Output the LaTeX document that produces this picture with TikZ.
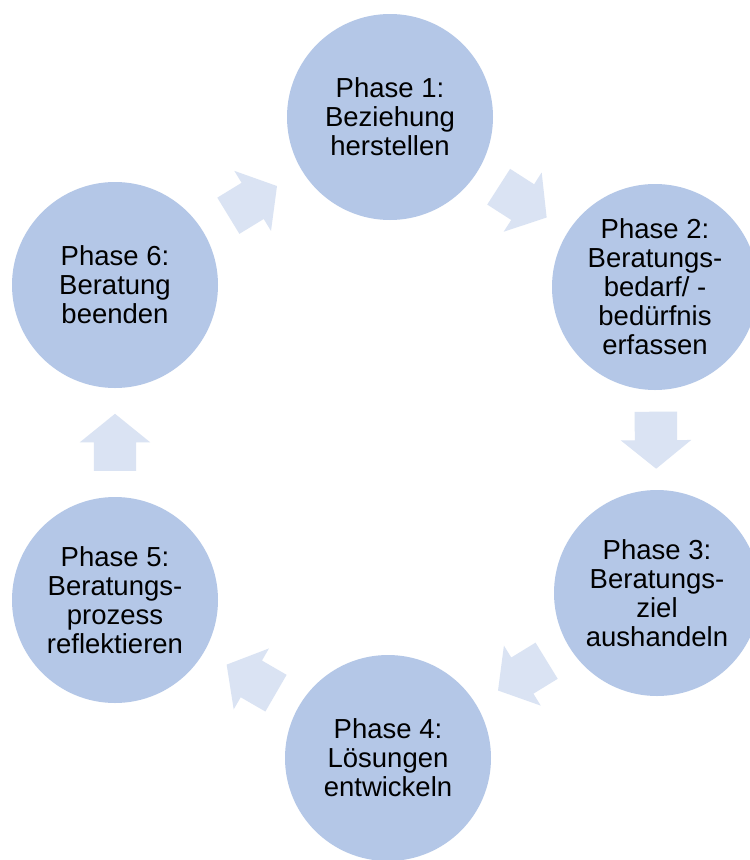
\documentclass[tikz,border=0pt]{standalone}
\usepackage{fontspec}
\setmainfont{Liberation Sans}
\usetikzlibrary{shapes.arrows,calc}
\definecolor{circfill}{HTML}{B4C7E7}
\definecolor{arrfill}{HTML}{DAE3F3}
\tikzset{
  phase/.style={circle, fill=circfill, minimum size=206pt, inner sep=0pt,
    align=center, font=\fontsize{27.5pt}{29pt}\selectfont, text=black},
  blockarrow/.style={single arrow, fill=arrfill, draw=none, inner xsep=0pt,
    inner ysep=21pt, minimum height=57pt, minimum width=0pt, single arrow head extend=14pt,
    single arrow tip angle=102, sloped, allow upside down, pos=0, anchor=tail}
}
\begin{document}
\begin{tikzpicture}[x=1pt,y=-1pt]
\useasboundingbox[fill=white] (0,0) rectangle (750,860);
\node[phase] (p1) at (390,117) {Phase 1:\\Beziehung\\herstellen};
\node[phase] (p2) at (655,287) {Phase 2:\\Beratungs-\\bedarf/ -\\bedürfnis\\erfassen};
\node[phase] (p3) at (657,593) {Phase 3:\\Beratungs-\\ziel\\aushandeln};
\node[phase] (p4) at (388,758) {Phase 4:\\Lösungen\\entwickeln};
\node[phase] (p5) at (115,600) {Phase 5:\\Beratungs-\\prozess\\reflektieren};
\node[phase] (p6) at (115,285) {Phase 6:\\Beratung\\beenden};
\path ($(p1.center)!0.5!(p2.center)!28.5pt!(p1.center)$) -- node[blockarrow] (a12) {} (p2.center);
\path ($(p2.center)!0.5!(p3.center)!28.5pt!(p2.center)$) -- node[blockarrow] (a23) {} (p3.center);
\path ($(p3.center)!0.5!(p4.center)!28.5pt!(p3.center)$) -- node[blockarrow] (a34) {} (p4.center);
\path ($(p4.center)!0.5!(p5.center)!28.5pt!(p4.center)$) -- node[blockarrow] (a45) {} (p5.center);
\path ($(p5.center)!0.5!(p6.center)!28.5pt!(p5.center)$) -- node[blockarrow] (a56) {} (p6.center);
\path ($(p6.center)!0.5!(p1.center)!28.5pt!(p6.center)$) -- node[blockarrow] (a61) {} (p1.center);
\end{tikzpicture}
\end{document}
